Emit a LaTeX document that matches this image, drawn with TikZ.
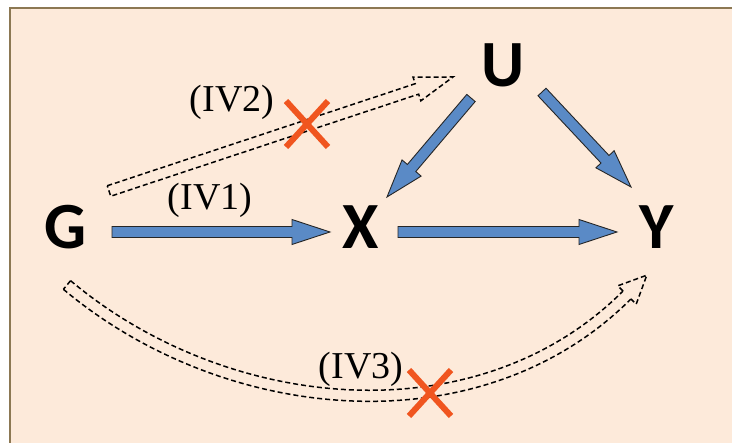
\documentclass[tikz,border=0pt]{standalone}
\usepackage{fontspec}
\setmainfont{Liberation Serif}
\newfontfamily\lettersf{Carlito}
\usetikzlibrary{calc, shapes.misc}

\definecolor{peach}{HTML}{FDEADA}
\definecolor{frame}{HTML}{8C7853}
\definecolor{arrblue}{HTML}{5A8AC6}
\definecolor{crossred}{HTML}{F0551F}

% block arrow between two named points
\newcommand\blockarrow[3][]{%
  \coordinate (hb) at ($(#3)!38pt!(#2)$);
  \draw[#1] ($(#2)!5.5pt!90:(#3)$) -- ($(hb)!5.5pt!90:(#3)$)
    -- ($(hb)!12.5pt!90:(#3)$) -- (#3) -- ($(hb)!12.5pt!-90:(#3)$)
    -- ($(hb)!5.5pt!-90:(#3)$) -- ($(#2)!5.5pt!-90:(#3)$) -- cycle;}

\begin{document}
\begin{tikzpicture}[x=1pt, y=1pt]

\tikzset{
  var/.style={inner sep=0pt, font=\lettersf\bfseries\fontsize{66}{66}\selectfont},
  ivlabel/.style={inner sep=0pt, font=\fontsize{38}{38}\selectfont},
  causal/.style={fill=arrblue, draw=black!85, line width=0.9pt},
  blocked/.style={draw=black, fill=peach, line width=1.5pt, dash pattern=on 5pt off 3pt},
  nogo/.style={cross out, draw=crossred, line width=6pt, inner sep=0pt,
    minimum width=36pt, minimum height=40pt}
}

\useasboundingbox (0,0) rectangle (732,443);
\fill[peach] (10,0) rectangle (732,435);
\draw[frame, line width=2.5pt] (10,0) -- (10,435) -- (732,435);

% variables
\node[var] (G) at (66,216) {G};
\node[var] (X) at (361,216) {X};
\node[var] (Y) at (657,216) {Y};
\node[var] (U) at (503,378) {U};

% causal arrows
\coordinate (gx1) at ($(G)+(46,-5)$);
\coordinate (gx2) at ($(X)+(-31,-5)$);
\coordinate (xy1) at ($(X)+(37,-5)$);
\coordinate (xy2) at ($(Y)+(-40,-5)$);
\coordinate (ux1) at ($(U)+(-32,-33)$);
\coordinate (ux2) at ($(X)+(26,30)$);
\coordinate (uy1) at ($(U)+(39,-27)$);
\coordinate (uy2) at ($(Y)+(-26,40)$);
\blockarrow[causal]{gx1}{gx2}
\blockarrow[causal]{xy1}{xy2}
\blockarrow[causal]{ux1}{ux2}
\blockarrow[causal]{uy1}{uy2}

% IV2: G to U, blocked
\coordinate (gu1) at ($(G)+(43,36)$);
\coordinate (gu2) at ($(U)+(-50,-12)$);
\blockarrow[blocked]{gu1}{gu2}

% IV3: G to Y, blocked
\coordinate (gy1) at ($(G)+(1,-58)$);
\coordinate (gy2) at ($(Y)+(-30,-68)$);
\coordinate (gy3) at ($(gy2)+(45:28)$);
\draw[blocked, fill=none] ($(gy1)+(50:5.6)$) to[out=-40, in=-135, looseness=0.95] ($(gy2)+(135:5.6)$);
\draw[blocked, fill=none] ($(gy1)+(230:5.6)$) to[out=-40, in=-135, looseness=0.95] ($(gy2)+(-45:5.6)$);
\draw[blocked, fill=none] ($(gy1)+(50:5.6)$) -- ($(gy1)+(230:5.6)$);
\filldraw[blocked] ($(gy2)!5.6pt!90:(gy3)$) -- ($(gy2)!13pt!90:(gy3)$) -- (gy3)
  -- ($(gy2)!13pt!-90:(gy3)$) -- ($(gy2)!5.6pt!-90:(gy3)$);

% labels and crosses
\node[ivlabel] (iv1) at (210,243) {(IV1)};
\node[ivlabel] (iv2) at (232,341) {(IV2)};
\node[ivlabel] (iv3) at (361,74) {(IV3)};
\node[nogo] (x2) at (307,319) {};
\node[nogo] (x3) at (430,50) {};

\end{tikzpicture}
\end{document}
